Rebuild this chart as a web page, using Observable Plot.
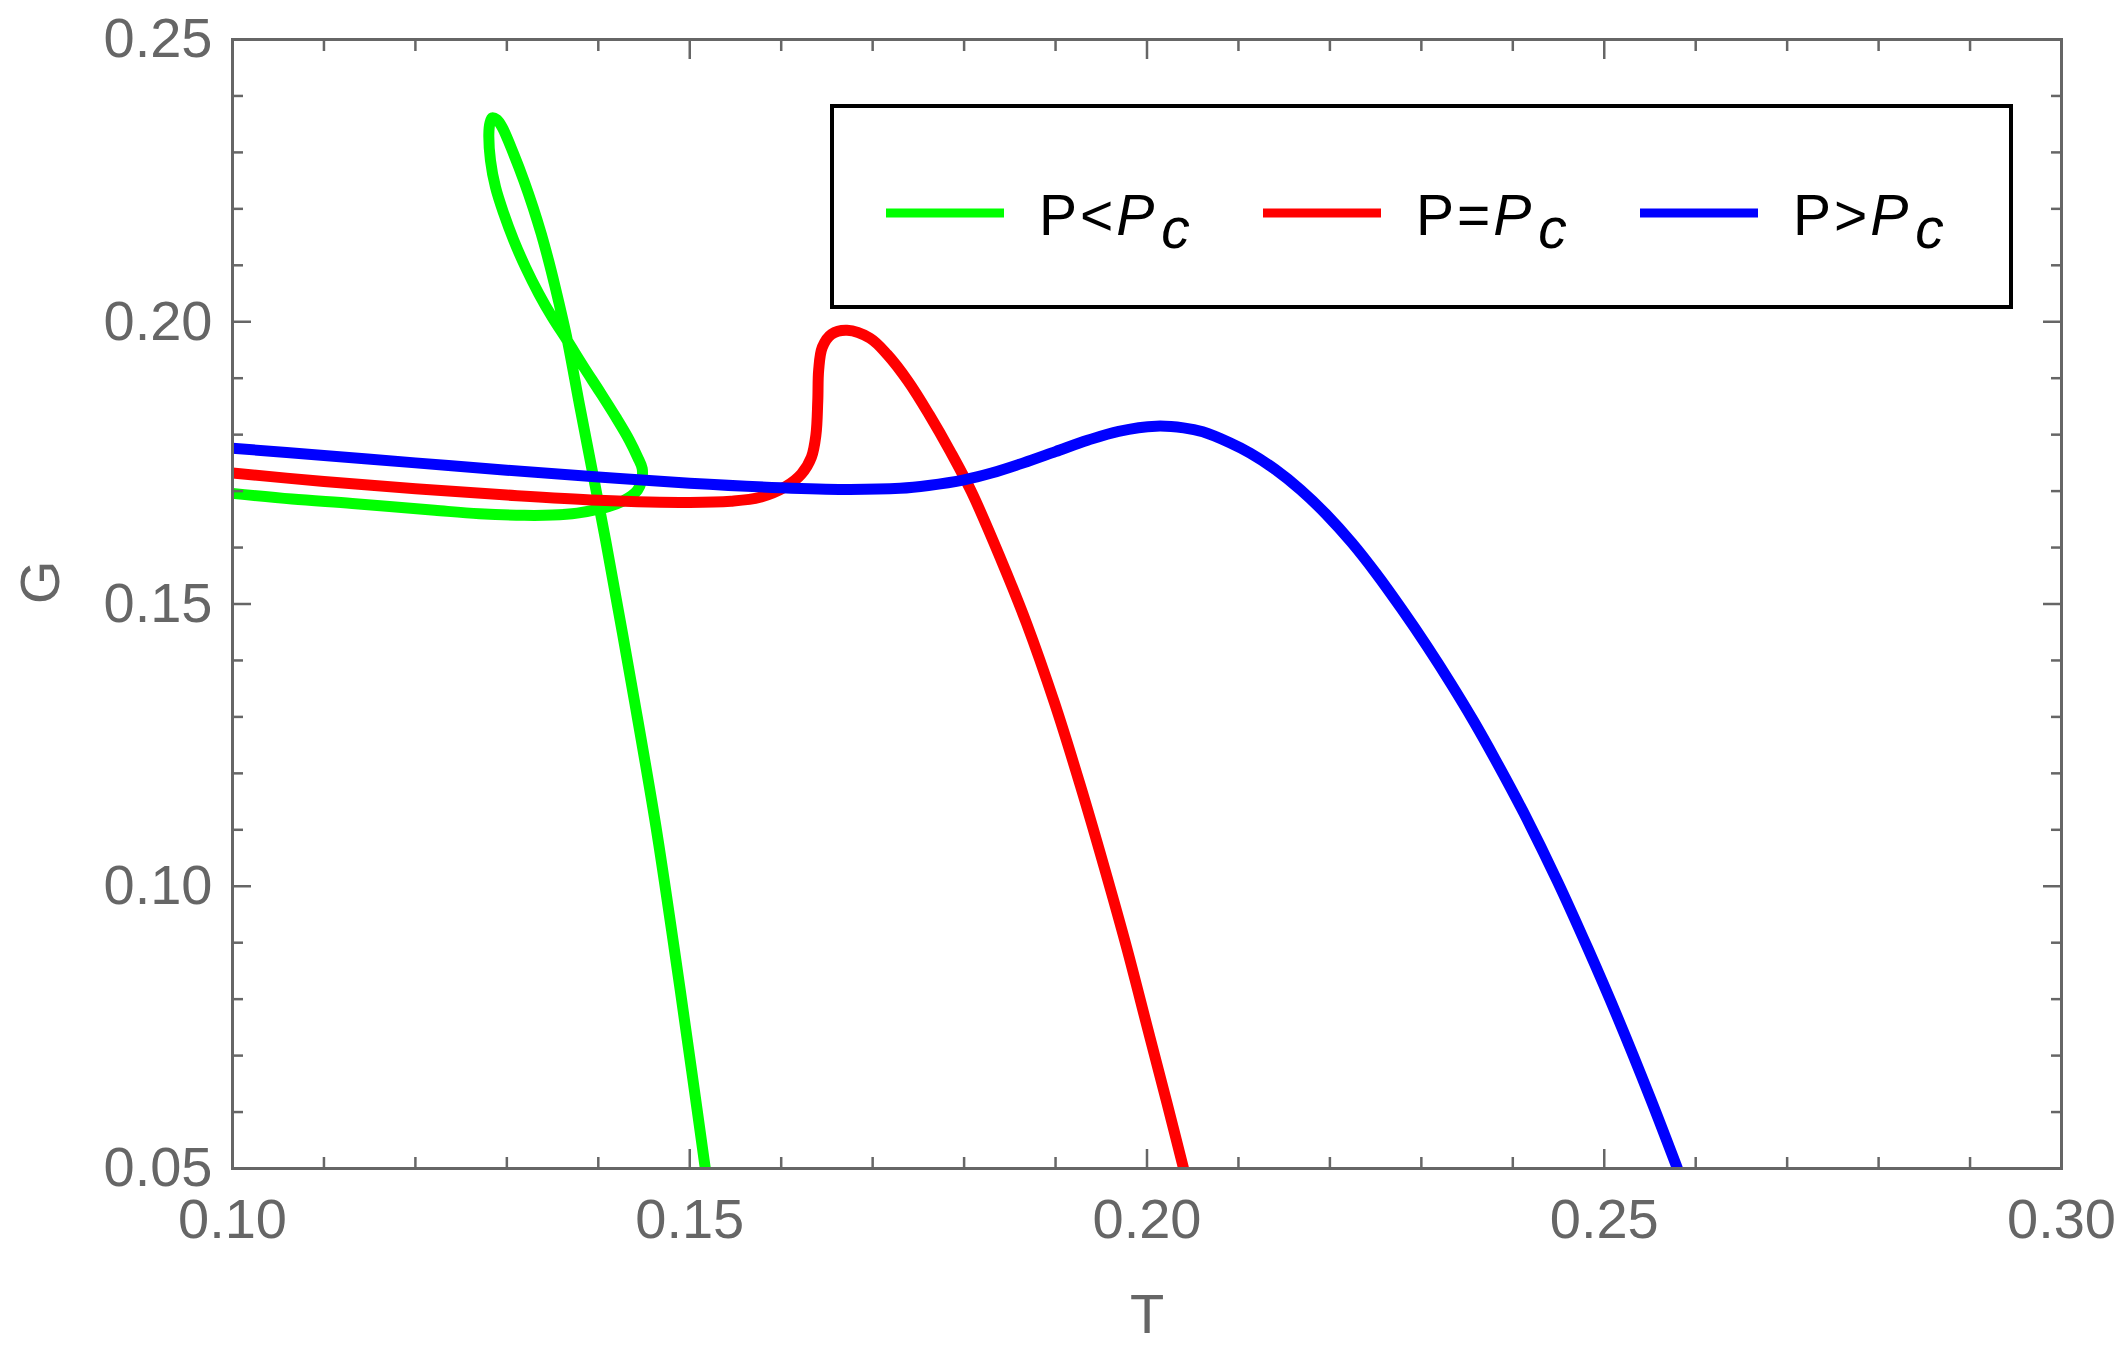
<!DOCTYPE html>
<html>
<head>
<meta charset="utf-8">
<script src="https://cdn.jsdelivr.net/npm/d3@7"></script>
<script src="https://cdn.jsdelivr.net/npm/@observablehq/plot@0.6"></script>
<style>
  html, body { margin: 0; padding: 0; background: #fff; }
  #wrap { position: relative; width: 2126px; height: 1353px; }
  #legend { position: absolute; left: 830px; top: 104px; }
</style>
</head>
<body>
<div id="wrap"></div>
<script>
// ---- data ----
const seriesNames = ["P<Pc", "P=Pc", "P>Pc"];
const seriesOps = ["<", "=", ">"];
const seriesColors = ["#00ff00", "#ff0000", "#0000ff"];

const greenT = [0.10000, 0.10650, 0.11310, 0.12210, 0.12700, 0.13190, 0.13500, 0.13770, 0.14000, 0.14200, 0.14330, 0.14430, 0.14475, 0.14480,
                0.14430, 0.14340, 0.14195, 0.14020, 0.13840, 0.13660, 0.13496, 0.13350, 0.13204, 0.13076, 0.12967, 0.12876, 0.12821, 0.12803, 0.12815, 0.12840, 0.12890, 0.12949,
                0.13074, 0.13186, 0.13286, 0.13376, 0.13456, 0.13529, 0.13597, 0.13662, 0.13800, 0.13940, 0.14080, 0.14400, 0.14630, 0.14830, 0.15020, 0.15170];
const greenG = [0.16960, 0.16860, 0.16780, 0.16660, 0.16600, 0.16570, 0.16575, 0.16610, 0.16680, 0.16775, 0.16880, 0.17020, 0.17200, 0.17400,
                0.17600, 0.17900, 0.18300, 0.18750, 0.19200, 0.19668, 0.20081, 0.20495, 0.20966, 0.21439, 0.21912, 0.22384, 0.22857, 0.23329, 0.23520, 0.23613, 0.23580, 0.23446,
                0.22975, 0.22502, 0.22029, 0.21558, 0.21085, 0.20612, 0.20141, 0.19668, 0.18480, 0.17310, 0.16130, 0.13240, 0.11060, 0.08900, 0.06740, 0.05000];

const redT = [0.1000, 0.1100, 0.1200, 0.1300, 0.1400, 0.1500, 0.1545, 0.1577, 0.1605, 0.1622, 0.1633, 0.1638, 0.1640, 0.1641, 0.1645, 0.1655, 0.1672, 0.1697, 0.1716, 0.1739, 0.1762, 0.1785, 0.1808, 0.1840, 0.1868, 0.1899, 0.1927, 0.1953, 0.1978, 0.2001, 0.2022, 0.2040];
const redG = [0.1732, 0.1717, 0.1704, 0.1693, 0.1684, 0.1680, 0.1682, 0.1689, 0.1708, 0.1730, 0.1760, 0.1800, 0.1860, 0.1915, 0.1955, 0.1978, 0.1985, 0.1971, 0.1942, 0.1894, 0.1835, 0.1770, 0.1699, 0.1580, 0.1467, 0.1324, 0.1179, 0.1035, 0.0890, 0.0746, 0.0615, 0.0500];

const blueT = [0.1000, 0.1100, 0.1200, 0.1300, 0.1400, 0.1500, 0.1600, 0.1669, 0.1730, 0.1761, 0.1800, 0.1830, 0.1865, 0.1900, 0.1935, 0.1969, 0.2010, 0.2040, 0.2061, 0.2090, 0.2113, 0.2140, 0.2168, 0.2196, 0.2224, 0.2250, 0.2279, 0.2306, 0.2333, 0.2357, 0.2381, 0.2412, 0.2449, 0.2482, 0.2515, 0.2551, 0.2580];
const blueG = [0.1776, 0.1763, 0.1750, 0.1737, 0.1725, 0.1714, 0.1706, 0.1703, 0.1705, 0.1710, 0.1720, 0.1732, 0.1750, 0.1770, 0.1790, 0.1806, 0.1815, 0.1812, 0.1805, 0.1786, 0.1767, 0.17386, 0.17022, 0.16588, 0.16084, 0.15551, 0.14899, 0.14256, 0.13573, 0.12930, 0.12240, 0.1130, 0.1008, 0.0890, 0.0766, 0.0622, 0.0500];

const xMajorTicks = [0.10, 0.15, 0.20, 0.25, 0.30];
const yMajorTicks = [0.05, 0.10, 0.15, 0.20, 0.25];
const xMinorTicks = [0.11, 0.12, 0.13, 0.14, 0.16, 0.17, 0.18, 0.19, 0.21, 0.22, 0.23, 0.24, 0.26, 0.27, 0.28, 0.29];
const yMinorTicks = [0.06, 0.07, 0.08, 0.09, 0.11, 0.12, 0.13, 0.14, 0.16, 0.17, 0.18, 0.19, 0.21, 0.22, 0.23, 0.24];

// ---- build table ----
const seriesT = [greenT, redT, blueT];
const seriesG = [greenG, redG, blueG];
const rows = [];
seriesNames.forEach((name, s) => {
  seriesT[s].forEach((t, i) => rows.push({series: name, T: t, G: seriesG[s][i]}));
});

const gray = "#666666";
const fmt = d3.format(".2f");
const font = '"Liberation Sans", Arial, Helvetica, sans-serif';

const tickAxes = [];
for (const anchor of ["bottom", "top"]) {
  tickAxes.push(Plot.axisX(xMinorTicks, {anchor, tickSize: -11, tickFormat: () => "", label: null, stroke: gray, strokeWidth: 2.5}));
  tickAxes.push(Plot.axisX(xMajorTicks, {anchor, tickSize: -19, tickFormat: () => "", label: null, stroke: gray, strokeWidth: 2.5}));
}
for (const anchor of ["left", "right"]) {
  tickAxes.push(Plot.axisY(yMinorTicks, {anchor, tickSize: -11, tickFormat: () => "", label: null, stroke: gray, strokeWidth: 2.5}));
  tickAxes.push(Plot.axisY(yMajorTicks, {anchor, tickSize: -19, tickFormat: () => "", label: null, stroke: gray, strokeWidth: 2.5}));
}

const chart = Plot.plot({
  width: 2126,
  height: 1353,
  marginLeft: 232,
  marginRight: 65,
  marginTop: 39,
  marginBottom: 185,
  style: {fontFamily: font, fontSize: "56px", color: gray, background: "#fff"},
  x: {domain: [0.10, 0.30]},
  y: {domain: [0.05, 0.25]},
  color: {domain: seriesNames, range: seriesColors},
  marks: [
    Plot.line(rows, {x: "T", y: "G", z: "series", stroke: "series", strokeWidth: 11, curve: "catmull-rom", clip: true}),
    Plot.frame({stroke: gray, strokeWidth: 3}),
    ...tickAxes,
    Plot.axisX(xMajorTicks, {anchor: "bottom", tickSize: 0, tickPadding: 30, tickFormat: fmt, label: null, fill: gray, fontSize: 56}),
    Plot.axisY(yMajorTicks, {anchor: "left", tickSize: 0, tickPadding: 20, tickFormat: fmt, label: null, fill: gray, fontSize: 56}),
    Plot.text(["T"], {text: d => d, frameAnchor: "bottom", dy: 147, lineAnchor: "middle", fill: gray, fontSize: 56}),
    Plot.text(["G"], {text: d => d, frameAnchor: "left", dx: -191, rotate: -90, lineAnchor: "middle", fill: gray, fontSize: 56})
  ]
});

const wrap = document.getElementById("wrap");
wrap.appendChild(chart);

// ---- legend (inside the frame, top right) ----
const lw = 1183, lh = 205;
const legend = d3.select(wrap).append("svg")
  .attr("id", "legend")
  .attr("width", lw).attr("height", lh)
  .style("font-family", font);
legend.append("rect")
  .attr("x", 2).attr("y", 2).attr("width", lw - 4).attr("height", lh - 4)
  .attr("fill", "#fff").attr("stroke", "#000").attr("stroke-width", 4);
seriesNames.forEach((name, i) => {
  const off = 377 * i;
  legend.append("line")
    .attr("x1", 56 + off).attr("x2", 174 + off)
    .attr("y1", 109).attr("y2", 109)
    .attr("stroke", seriesColors[i]).attr("stroke-width", 9);
  const t = legend.append("text")
    .attr("x", 209 + off).attr("y", 131)
    .attr("font-size", 57).attr("fill", "#000");
  t.append("tspan").text("P");
  t.append("tspan").attr("dx", 3).text(seriesOps[i]);
  t.append("tspan").attr("dx", 3).attr("font-style", "italic").text("P");
  t.append("tspan").attr("dx", 7).attr("dy", 13).attr("font-style", "italic").text("c");
});
</script>
</body>
</html>
